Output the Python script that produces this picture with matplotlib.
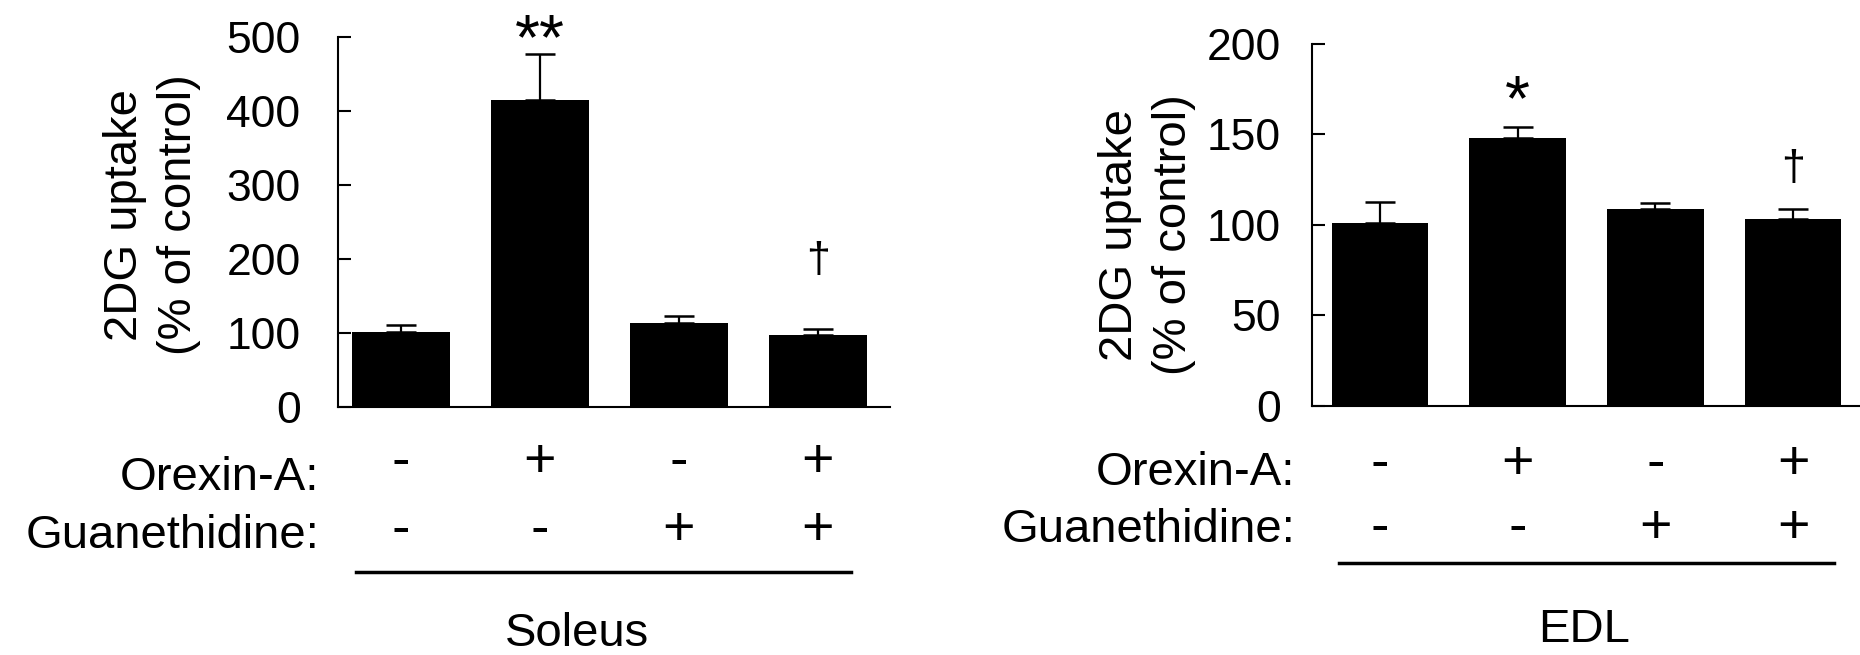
import numpy as np
import matplotlib
matplotlib.use("Agg")
import matplotlib.pyplot as plt
from matplotlib.transforms import blended_transform_factory

plt.rcParams['font.family'] = ['Liberation Sans', 'DejaVu Sans']

# 2DG uptake, % of control (mean, SEM)
soleus_mean = [101, 415, 113, 97]
soleus_sem = [10, 63, 10, 8]
edl_mean = [101, 148, 108.5, 103]
edl_sem = [11.5, 6, 3.5, 6]

orexin = ['-', '+', '-', '+']
guanethidine = ['-', '-', '+', '+']

# significance marks and the height they sit at
soleus_marks = ['', '**', '', '\u2020']
soleus_mark_y = [0, 470, 0, 183]
edl_marks = ['', '*', '', '\u2020']
edl_mark_y = [0, 158, 0, 125]

x = np.arange(4)
W, H = 1860, 655

fig = plt.figure(figsize=(18.6, 6.55), dpi=100)


def px(xp, yp):
    return xp / W, 1 - yp / H


def panel(rect, xlim, mean, sem, ymax, yticks, marks, mark_y, tick_pad,
          label_x, label_yc, row_rx, row_base, sign_base, line_x, line_y,
          name, name_xy):
    ax = fig.add_axes(rect)
    ax.bar(x, mean, width=0.7, color='black', zorder=2)
    ax.errorbar(x, mean, yerr=[np.zeros(4), sem], fmt='none', ecolor='black',
                elinewidth=1.6, capsize=11, capthick=1.8, zorder=3)
    ax.set_xlim(*xlim)
    ax.set_ylim(0, ymax)
    ax.set_yticks(yticks)
    ax.set_xticks([])
    for s in ['top', 'right']:
        ax.spines[s].set_visible(False)
    for s in ['left', 'bottom']:
        ax.spines[s].set_linewidth(1.5)
    ax.tick_params(axis='y', direction='in', length=9, width=1.5,
                   labelsize=32, pad=tick_pad)

    for i, m in enumerate(marks):
        if m:
            fs = 31 if m == '\u2020' else 46
            ax.text(x[i], mark_y[i], m, ha='center', va='baseline',
                    fontsize=fs, clip_on=False)

    # y label, two lines rotated
    fx, fy = px(label_x, label_yc)
    fig.text(fx, fy, '2DG uptake\n(% of control)', rotation=90,
             ha='center', va='center', fontsize=34, linespacing=1.3,
             multialignment='center')

    # treatment rows
    rx, _ = px(row_rx, 0)
    trans = blended_transform_factory(ax.transData, fig.transFigure)
    for lab, signs, lb, sb in [('Orexin-A:', orexin, row_base[0], sign_base[0]),
                               ('Guanethidine:', guanethidine, row_base[1], sign_base[1])]:
        fig.text(rx, 1 - lb / H, lab, ha='right', va='baseline', fontsize=34)
        for i, sgn in enumerate(signs):
            ax.text(x[i], 1 - sb / H, sgn, transform=trans, ha='center',
                    va='baseline', fontsize=40)

    ax.plot(line_x, [1 - line_y / H] * 2, transform=trans, color='black',
            lw=2.5, clip_on=False)
    nx, ny = px(*name_xy)
    fig.text(nx, ny, name, ha='center', va='center', fontsize=34)
    return ax


panel(rect=[338 / W, 1 - 407 / H, 552 / W, 369.7 / H],
      xlim=(-0.453, 3.518), mean=soleus_mean, sem=soleus_sem, ymax=500,
      yticks=[0, 100, 200, 300, 400, 500], marks=soleus_marks,
      mark_y=soleus_mark_y, tick_pad=27,
      label_x=152, label_yc=215, row_rx=319, row_base=(490, 548),
      sign_base=(477, 545), line_x=[-0.32, 3.24], line_y=571.5,
      name='Soleus', name_xy=(577, 634))

panel(rect=[1311.5 / W, 1 - 405.7 / H, 0.30, 361.7 / H],
      xlim=(-0.497, 3.555), mean=edl_mean, sem=edl_sem, ymax=200,
      yticks=[0, 50, 100, 150, 200], marks=edl_marks,
      mark_y=edl_mark_y, tick_pad=22,
      label_x=1147, label_yc=235, row_rx=1295, row_base=(485, 542),
      sign_base=(479, 543), line_x=[-0.30, 3.30], line_y=563,
      name='EDL', name_xy=(1584, 630))

fig.savefig('out.png', dpi=100)
